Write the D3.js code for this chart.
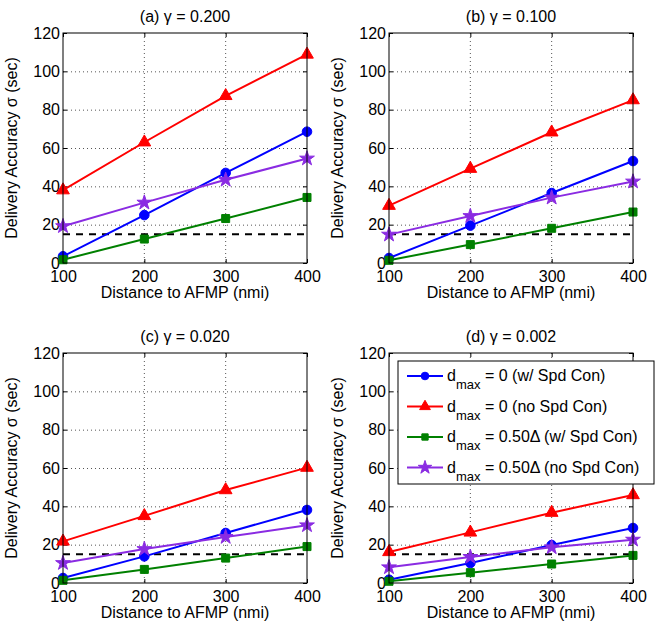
<!DOCTYPE html>
<html lang="en">
<head>
<meta charset="UTF-8">
<title>Delivery Accuracy vs Distance</title>
<style>
  body { margin: 0; background: #fff; }
  text { font-family: "Liberation Sans", Arial, Helvetica, sans-serif; fill: #000; }
</style>
</head>
<body>
<svg height="627" width="656"></svg>
<script src="https://d3js.org/d3.v7.min.js"></script>
<script>
// ---- data ----
var distances = [100, 200, 300, 400];
var yTicks = [0, 20, 40, 60, 80, 100, 120];
var panelTitles = ["(a) \u03b3 = 0.200", "(b) \u03b3 = 0.100", "(c) \u03b3 = 0.020", "(d) \u03b3 = 0.002"];
var targetAccuracy = 15;

// per panel: [a, b, c, d]
var zeroWithSpd   = [[3.5, 25, 47, 68.5], [2.6, 19.5, 36.5, 53.2], [2.6, 13.9, 26.1, 38.1], [1.7, 10.4, 19.8, 28.7]];
var zeroNoSpd     = [[38, 63, 87.2, 108.8], [29.9, 49.2, 68.2, 85], [21.7, 35, 48.5, 60.2], [16.2, 26.4, 36.7, 45.9]];
var halfWithSpd   = [[1.7, 12.5, 23.2, 34.2], [1.4, 9.6, 18.1, 26.6], [1.4, 7.1, 13, 19], [0.9, 5.4, 9.9, 14.4]];
var halfNoSpd     = [[19.2, 31.5, 43.4, 54.5], [14.8, 24.5, 34.1, 42.5], [10.4, 17.7, 24, 30.1], [8.2, 13.6, 18.6, 22.6]];

var seriesNames = ["= 0 (w/ Spd Con)", "= 0 (no Spd Con)", "= 0.50\u0394 (w/ Spd Con)", "= 0.50\u0394 (no Spd Con)"];
var seriesColors = ["#0000ff", "#ff0000", "#008000", "#8a2be2"];
var seriesData = [zeroWithSpd, zeroNoSpd, halfWithSpd, halfNoSpd];

// ---- layout ----
var svg = d3.select("svg");
var plotW = 244, plotH = 230;
var panelOrigins = [[63, 33], [389, 33], [63, 353], [389, 353]];

var x = d3.scaleLinear().domain([100, 400]).range([0, plotW]);
var y = d3.scaleLinear().domain([0, 120]).range([plotH, 0]);

var symbols = [
    d3.symbol().type(d3.symbolCircle).size(72),
    d3.symbol().type(d3.symbolTriangle).size(70),
    d3.symbol().type(d3.symbolSquare).size(64),
    d3.symbol().type(d3.symbolStar).size(68)
];
var legendSymbols = [
    d3.symbol().type(d3.symbolCircle).size(46),
    d3.symbol().type(d3.symbolTriangle).size(50),
    d3.symbol().type(d3.symbolSquare).size(40),
    d3.symbol().type(d3.symbolStar).size(56)
];

var line = d3.line()
    .x(function(d, i) { return x(distances[i]); })
    .y(function(d) { return y(d); });

panelOrigins.forEach(function(origin, p) {
    var g = svg.append("g").attr("transform", "translate(" + origin[0] + "," + origin[1] + ")");

    // dotted grid
    g.selectAll(".vgrid").data([200, 300]).enter().append("line")
        .attr("x1", function(d) { return x(d); }).attr("x2", function(d) { return x(d); })
        .attr("y1", 0).attr("y2", plotH)
        .attr("stroke", "#555").attr("stroke-width", 1).attr("stroke-dasharray", "1,3");
    g.selectAll(".hgrid").data(yTicks.slice(1, -1)).enter().append("line")
        .attr("y1", function(d) { return y(d) + 0.5; }).attr("y2", function(d) { return y(d) + 0.5; })
        .attr("x1", 0).attr("x2", plotW)
        .attr("stroke", "#555").attr("stroke-width", 1).attr("stroke-dasharray", "1,3");

    // axes with inward ticks
    var xAxis = d3.axisBottom(x).tickValues(distances).tickSizeInner(-4).tickSizeOuter(0).tickPadding(7);
    var yAxis = d3.axisLeft(y).tickValues(yTicks).tickSizeInner(-4).tickSizeOuter(0).tickPadding(3);
    var xa = g.append("g").attr("transform", "translate(0," + plotH + ")").call(xAxis);
    var ya = g.append("g").call(yAxis);
    [xa, ya].forEach(function(a) {
        a.select(".domain").remove();
        a.selectAll("text").attr("font-size", 16).attr("font-family", "Liberation Sans, Arial, sans-serif").attr("fill", "#000");
        a.selectAll("line").attr("stroke", "#000");
    });
    xa.selectAll("text").attr("dy", "0.72em");
    // top and right ticks
    g.append("g").call(d3.axisTop(x).tickValues(distances).tickSizeInner(-4).tickSizeOuter(0).tickFormat(""))
        .call(function(a) { a.select(".domain").remove(); });
    g.append("g").attr("transform", "translate(" + plotW + ",0)")
        .call(d3.axisRight(y).tickValues(yTicks).tickSizeInner(-4).tickSizeOuter(0).tickFormat(""))
        .call(function(a) { a.select(".domain").remove(); });

    // target line
    g.append("line")
        .attr("x1", x(100)).attr("x2", x(400))
        .attr("y1", y(targetAccuracy)).attr("y2", y(targetAccuracy))
        .attr("stroke", "#000").attr("stroke-width", 2).attr("stroke-dasharray", "7,6");

    // series
    seriesData.forEach(function(s, k) {
        g.append("path").datum(s[p])
            .attr("d", line)
            .attr("fill", "none").attr("stroke", seriesColors[k]).attr("stroke-width", 2);
        g.selectAll(".m" + k).data(s[p]).enter().append("path")
            .attr("d", symbols[k])
            .attr("transform", function(d, i) { return "translate(" + x(distances[i]) + "," + y(d) + ")"; })
            .attr("fill", seriesColors[k]).attr("stroke", seriesColors[k]).attr("stroke-width", 1);
    });

    // box
    g.append("rect").attr("x", 0).attr("y", 0).attr("width", plotW).attr("height", plotH)
        .attr("fill", "none").attr("stroke", "#000").attr("stroke-width", 1);

    // titles and labels
    g.append("text").attr("x", plotW / 2).attr("y", -11).attr("text-anchor", "middle")
        .attr("font-size", 16).text(panelTitles[p]);
    g.append("text").attr("x", plotW / 2).attr("y", plotH + 35).attr("text-anchor", "middle")
        .attr("font-size", 16).text("Distance to AFMP (nmi)");
    g.append("text").attr("transform", "translate(-46," + (plotH / 2) + ") rotate(-90)")
        .attr("text-anchor", "middle").attr("font-size", 16).text("Delivery Accuracy \u03c3 (sec)");
});

// legend in panel (d)
var legend = svg.append("g").attr("transform", "translate(398,361)");
legend.append("rect").attr("width", 256).attr("height", 123)
    .attr("fill", "#fff").attr("stroke", "#000").attr("stroke-width", 1);
seriesNames.forEach(function(name, k) {
    var rowY = 15 + k * 30.5;
    legend.append("line").attr("x1", 9).attr("x2", 45).attr("y1", rowY).attr("y2", rowY)
        .attr("stroke", seriesColors[k]).attr("stroke-width", 2);
    legend.append("path").attr("d", legendSymbols[k])
        .attr("transform", "translate(27," + rowY + ")")
        .attr("fill", seriesColors[k]).attr("stroke", seriesColors[k]);
    var t = legend.append("text").attr("x", 49).attr("y", rowY + 5).attr("font-size", 16);
    t.append("tspan").text("d");
    t.append("tspan").attr("dy", 8).attr("font-size", 13).text("max");
    t.append("tspan").attr("dy", -8).text(" " + name);
});
</script>
</body>
</html>
